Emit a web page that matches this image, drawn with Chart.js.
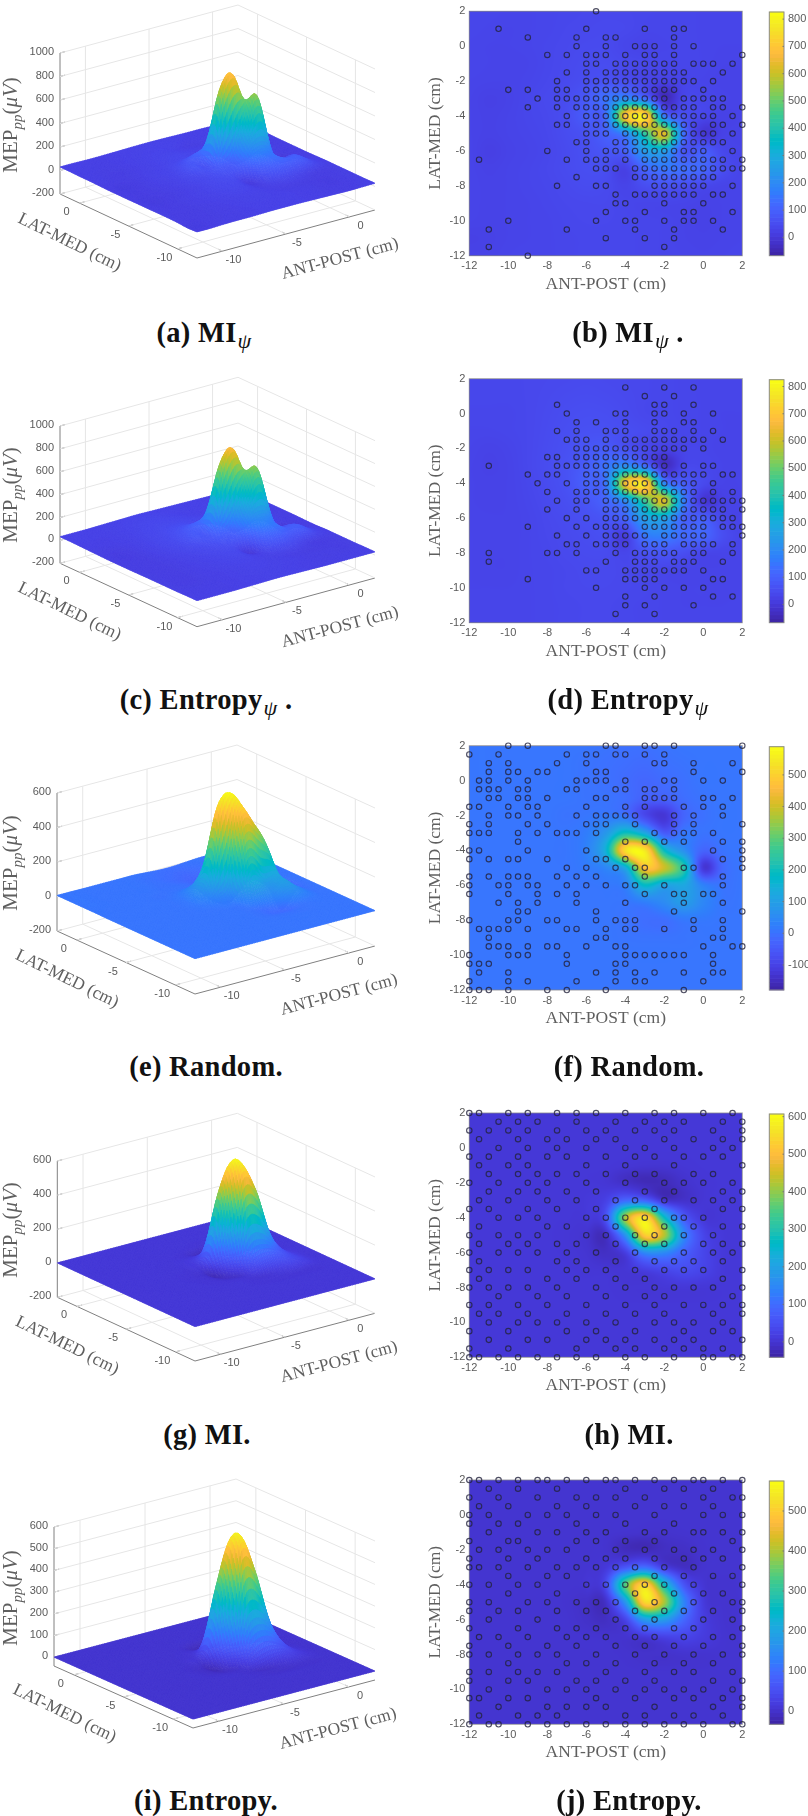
<!DOCTYPE html>
<html>
<head>
<meta charset="utf-8">
<title>MEP maps</title>
<script src="https://cdn.jsdelivr.net/npm/chart.js@4.4.1/dist/chart.umd.min.js"></script>
<style>
    html, body { margin: 0; padding: 0; background: #fff; }
    #page { position: relative; width: 808px; height: 1816px; overflow: hidden; }
    #page canvas { position: absolute; display: block; filter: blur(0.5px); }
    .cap { position: absolute; transform: translateX(-50%); white-space: nowrap; color: #111;
           font: bold 28.5px/32px "Liberation Serif", serif; letter-spacing: 0.3px; }
    .cap i { font: italic 22px "Liberation Serif", serif; position: relative; top: 6px; margin-left: 1px; }
</style>
</head>
<body>
<div id="page"></div>
<script>
// Axis values
const antCols = [-12, -11, -10, -9, -8, -7, -6, -5, -4, -3, -2, -1, 0, 1, 2];
const latRows = [2, 1, 0, -1, -2, -3, -4, -5, -6, -7, -8, -9, -10, -11, -12];
const probeRows = [2, 1.5, 1, 0.5, 0, -0.5, -1, -1.5, -2, -2.5, -3, -3.5, -4, -4.5, -5, -5.5, -6, -6.5, -7, -7.5, -8, -8.5, -9, -9.5, -10, -10.5, -11, -11.5, -12];
const heatTicks = [-12, -10, -8, -6, -4, -2, 0, 2];
const floorTicks = [-10, -5, 0];

// MEP values, one row per LAT-MED value, one column per ANT-POST value
const gridMiPsi = [
    [30, 30, 28, 28, 30, 32, 34, 35, 34, 32, 30, 30, 28, 28, 28],
    [30, 28, 26, 28, 30, 34, 36, 38, 36, 30, 30, 30, 28, 28, 28],
    [28, 26, 26, 28, 32, 36, 40, 40, 30, 25, 28, 30, 28, 26, 26],
    [28, 26, 24, 26, 32, 38, 44, 46, 40, 35, 30, 30, 28, 24, 24],
    [26, 24, 24, 28, 34, 40, 50, 60, 50, 30, 15, 25, 26, 22, 22],
    [24, 18, 22, 30, 38, 46, 80, 140, 200, 130, -40, 30, 30, 25, 22],
    [24, 20, 24, 30, 36, 50, 90, 130, 690, 770, 160, 60, 30, 20, 22],
    [24, 20, 24, 28, 34, 46, 60, 100, 190, 430, 630, 130, -5, 20, 22],
    [25, 15, 22, 26, 32, 42, 55, 70, 100, 250, 260, 70, 90, 35, 24],
    [25, 20, 24, 28, 34, 42, 50, 50, 20, 110, 150, 130, 110, 50, 26],
    [26, 22, 24, 28, 32, 38, 44, 40, 25, 50, 60, 50, 35, 26, 26],
    [26, 22, 24, 26, 30, 34, 36, 36, 30, 28, 28, 26, 22, 24, 26],
    [24, 22, 24, 26, 28, 32, 34, 34, 32, 30, 28, 24, 20, 24, 26],
    [18, 20, 24, 26, 28, 30, 32, 32, 32, 30, 28, 24, 22, 24, 26],
    [22, 22, 26, 28, 28, 30, 32, 32, 32, 30, 28, 26, 24, 26, 28]
];
const gridEntropyPsi = [
    [32, 32, 32, 34, 36, 38, 40, 38, 36, 34, 32, 30, 28, 28, 28],
    [32, 32, 32, 34, 38, 42, 44, 42, 38, 34, 32, 30, 28, 28, 28],
    [30, 30, 30, 34, 40, 46, 50, 48, 42, 34, 32, 30, 28, 26, 26],
    [28, 28, 30, 34, 42, 50, 56, 56, 50, 42, 34, 30, 28, 26, 24],
    [26, 22, 26, 34, 44, 54, 70, 80, 60, 35, 20, 28, 28, 24, 24],
    [24, 20, 24, 34, 46, 60, 90, 140, 210, 130, -30, 30, 32, 26, 24],
    [24, 22, 24, 32, 44, 60, 100, 150, 660, 750, 190, 90, 40, 24, 24],
    [24, 22, 24, 30, 40, 52, 70, 110, 210, 450, 620, 170, -5, 18, 22],
    [25, 24, 24, 28, 36, 44, 55, 70, 110, 260, 270, 100, 90, 35, 22],
    [26, 24, 24, 28, 34, 40, 46, 50, 10, 150, 170, 120, 110, 50, 26],
    [26, 24, 24, 28, 32, 38, 42, 42, 30, 60, 70, 50, 30, 26, 26],
    [26, 24, 24, 28, 30, 34, 38, 38, 34, 32, 30, 26, 24, 24, 26],
    [26, 26, 26, 28, 30, 34, 36, 36, 34, 32, 28, 26, 26, 24, 26],
    [28, 28, 28, 28, 30, 32, 34, 34, 32, 30, 28, 26, 26, 26, 28],
    [28, 28, 28, 28, 30, 32, 34, 34, 32, 30, 28, 28, 28, 28, 28]
];
const gridRandom = [
    [6, 6, 5, 5, 5, 5, 5, 0, -5, -5, 0, 5, 5, 5, 5],
    [6, 6, 5, 5, 5, 5, 0, -5, -10, -15, -5, 0, 5, 5, 5],
    [6, 6, 5, 5, 5, 5, 0, -5, -15, -25, -15, -5, 5, 5, 5],
    [6, 6, 5, 4, 5, 5, 0, 0, -10, -35, -35, -10, 0, 5, 5],
    [6, 5, 5, 4, 5, 0, 5, 10, 0, -90, -130, -30, -5, 5, 5],
    [5, 5, 5, 4, 5, 5, 20, 80, 200, 120, -50, 10, 0, 5, 5],
    [5, 5, 5, 5, 5, 5, 30, 150, 530, 550, 190, 60, -30, 0, 5],
    [5, 5, 5, 5, 5, 5, 15, 40, 130, 470, 400, 230, -125, -20, 5],
    [5, 5, 5, 5, 5, 5, 5, 10, 30, 180, 110, 120, 30, 0, 5],
    [5, 5, 5, 5, 5, 5, 5, 5, 5, 20, 50, 90, 40, 5, 5],
    [5, 5, 5, 5, 5, 5, 5, 5, 0, -10, -10, 10, 10, 5, 5],
    [5, 5, 5, 5, 5, 5, 5, 5, 2, 0, 0, 2, 5, 5, 5],
    [5, 5, 5, 5, 5, 5, 5, 5, 5, 5, 5, 5, 5, 5, 5],
    [5, 5, 5, 5, 5, 5, 5, 5, 5, 5, 5, 5, 5, 5, 5],
    [5, 5, 5, 5, 5, 5, 5, 5, 5, 5, 5, 5, 5, 5, 5]
];
const gridMi = [
    [2, 2, 2, 2, 2, 2, 2, 2, 2, 2, 2, 2, 2, 2, 2],
    [2, 2, 2, 2, 2, 2, 2, 2, 2, 2, 2, 2, 2, 2, 2],
    [2, 2, 2, 2, 2, 2, 2, 2, 2, 2, 2, 2, 2, 2, 2],
    [2, 2, 2, 2, 2, 2, 2, 2, 0, -3, -3, 0, 2, 2, 2],
    [2, 2, 2, 2, 2, 2, 2, 0, -12, -25, -25, -8, 0, 2, 2],
    [2, 2, 2, 2, 2, 2, 5, 20, 90, 80, -5, -10, 0, 2, 2],
    [2, 2, 2, 2, 2, 2, 5, 50, 420, 560, 270, 70, 5, 2, 2],
    [2, 2, 2, 2, 2, 0, -5, -15, 170, 530, 430, 150, 30, 5, 2],
    [2, 2, 2, 2, 2, 1, -3, -15, 15, 150, 150, 80, 30, 5, 2],
    [2, 2, 2, 2, 2, 2, 1, 0, 0, 15, 30, 40, 25, 5, 2],
    [2, 2, 2, 2, 2, 2, 2, 2, 0, 0, 2, 3, 2, 2, 2],
    [2, 2, 2, 2, 2, 2, 2, 2, 2, 2, 2, 2, 2, 2, 2],
    [2, 2, 2, 2, 2, 2, 2, 2, 2, 2, 2, 2, 2, 2, 2],
    [2, 2, 2, 2, 2, 2, 2, 2, 2, 2, 2, 2, 2, 2, 2],
    [2, 2, 2, 2, 2, 2, 2, 2, 2, 2, 2, 2, 2, 2, 2]
];
const gridEntropy = [
    [1, 1, 1, 1, 1, 1, 1, 1, 1, 1, 1, 1, 1, 1, 1],
    [1, 1, 1, 1, 1, 1, 1, 1, 1, 1, 1, 1, 1, 1, 1],
    [1, 1, 1, 1, 1, 1, 1, 1, 1, 1, 1, 1, 1, 1, 1],
    [1, 1, 1, 1, 1, 1, 1, 1, 0, -2, -2, 0, 1, 1, 1],
    [1, 1, 1, 1, 1, 1, 1, 0, -15, -18, -10, -8, 0, 1, 1],
    [1, 1, 1, 1, 1, 1, 2, 10, 60, 100, 20, -10, 0, 1, 1],
    [1, 1, 1, 1, 1, 1, 5, 40, 340, 510, 260, 60, 5, 0, 1],
    [1, 1, 1, 1, 1, 0, -6, -5, 170, 520, 400, 140, 15, 0, 1],
    [1, 1, 1, 1, 1, 1, -5, -10, 30, 180, 180, 90, 20, 1, 1],
    [1, 1, 1, 1, 1, 1, 1, 0, 0, 10, 25, 30, 15, 2, 1],
    [1, 1, 1, 1, 1, 1, 1, 1, 0, -3, -3, 0, 0, 1, 1],
    [1, 1, 1, 1, 1, 1, 1, 1, 1, 1, 1, 1, 1, 1, 1],
    [1, 1, 1, 1, 1, 1, 1, 1, 1, 1, 1, 1, 1, 1, 1],
    [1, 1, 1, 1, 1, 1, 1, 1, 1, 1, 1, 1, 1, 1, 1],
    [1, 1, 1, 1, 1, 1, 1, 1, 1, 1, 1, 1, 1, 1, 1]
];

// Stimulation sites, one list of ANT-POST values per entry of probeRows
const probesMiPsi = [
    [-5.5], [], [-10.5, -6, -3, -1.5, -1], [-9, -6.5, -5, -4.5, -1.5],
    [-6.5, -5, -3.5, -3, -2.5, -1.5, -0.5],
    [-8, -7, -6, -5.5, -5, -4, -3, -2.5, -1.5, 2],
    [-6, -5.5, -4.5, -4, -3.5, -3, -2.5, -2, -1.5, -0.5, 0, 0.5, 1.5],
    [-7, -6, -5, -4.5, -4, -3.5, -3, -2.5, -2, -1.5, -1, 1],
    [-7.5, -6, -5.5, -5, -4.5, -4, -3.5, -3, -2.5, -2, -1.5, -1, -0.5, 0.5],
    [-10, -9, -7.5, -7, -6, -5.5, -5, -4.5, -4, -3.5, -3, -2.5, -2, -1.5, 0],
    [-8.5, -7.5, -7, -6.5, -6, -5.5, -5, -4.5, -4, -3.5, -3, -2.5, -2, -1, -0.5, 0, 0.5, 1],
    [-9, -7.5, -6.5, -6, -5.5, -5, -4.5, -4, -3.5, -3, -2.5, -2, -1.5, -1, -0.5, 0.5, 1, 2],
    [-7, -6, -5.5, -5, -4.5, -4, -3.5, -3, -2.5, -2, -1.5, -1, -0.5, 0, 0.5, 1.5],
    [-7.5, -7, -6, -5.5, -5, -4.5, -4, -3.5, -3, -2.5, -2, -1.5, -1, -0.5, 0.5, 1, 2],
    [-6, -5.5, -5, -4, -3.5, -3, -2.5, -2, -1.5, -1, -0.5, 0, 0.5, 1.5],
    [-6.5, -6, -4.5, -4, -3.5, -3, -2.5, -2, -1.5, -1, -0.5, 0, 0.5, 1],
    [-8, -6, -5, -4.5, -4, -3.5, -3, -2.5, -2, -1.5, -1, -0.5, 0, 1.5],
    [-11.5, -7, -6, -5.5, -5, -4, -3, -2.5, -2, -1.5, -1, -0.5, 0, 0.5, 1, 2],
    [-5.5, -5, -4.5, -3.5, -3, -2.5, -2, -1.5, -1, -0.5, 0, 0.5, 1, 1.5, 2],
    [-6.5, -3.5, -3, -2.5, -2, -1.5, -1, -0.5, 0, 0.5],
    [-7.5, -5.5, -5, -2.5, -2, -1.5, -1, -0.5, 0, 1.5],
    [-4.5, -3.5, -3, -2.5, -2, -1.5, -1, -0.5, 0.5, 1],
    [-4.5, -4, -2, 0], [-5, -3, -1, -0.5, 1.5],
    [-10, -5.5, -4, -3.5, -2, -1, -0.5, 0.5],
    [-11, -7, -3.5, -1.5, 1], [-5, -3, -1.5], [-11, -2], [-9]
];
const probesEntropyPsi = [
    [], [-4, -2, -0.5], [-3, -1.5], [-7.5, -2.5, -2, -0.5],
    [-7, -4.5, -4, -2.5, -2, -1, 0.5],
    [-6.5, -5.5, -4, -2.5, -1, -0.5],
    [-7.5, -6.5, -5, -4.5, -4, -2.5, -2, -1.5, -0.5, 0.5],
    [-7, -6.5, -6, -5, -4, -3.5, -3, -2.5, -2, -1.5, -1, -0.5, 0, 1],
    [-6.5, -6, -5.5, -5, -4.5, -4, -3.5, -3, -2.5, -2, -1.5, -1, 0],
    [-8, -7.5, -6.5, -6, -5.5, -5, -4.5, -4, -3.5, -3, -2.5, -2],
    [-11, -7.5, -7, -6.5, -6, -5.5, -5, -4.5, -4, -3.5, -3, -2.5, -2, -1, 0, 0.5],
    [-9, -8, -7.5, -6, -5.5, -5, -4.5, -4, -3.5, -3, -2.5, -2, -1.5, -1, -0.5, 0, 1, 1.5],
    [-8.5, -7, -6, -5.5, -5, -4.5, -4, -3.5, -3, -2.5, -2, -1.5, -1, -0.5, 0.5],
    [-8, -6.5, -6, -5.5, -5, -4.5, -4, -3.5, -3, -2.5, -2, -1.5, -1, -0.5, 0.5, 1.5],
    [-7.5, -6.5, -6, -5, -4.5, -4, -3.5, -3, -2.5, -2, -1.5, -1, -0.5, 0, 0.5, 1, 1.5, 2],
    [-8, -6.5, -5, -4.5, -4, -3.5, -3, -2.5, -2, -1.5, -1, -0.5, 0, 0.5, 1, 2],
    [-7, -6, -5, -4.5, -4, -3.5, -3, -2.5, -2, -1.5, -1, -0.5, 0, 0.5, 1, 1.5],
    [-9, -6.5, -5.5, -5, -4.5, -4, -3, -2.5, -2, -1.5, -1, -0.5, 0, 1, 1.5, 2],
    [-7.5, -6, -5, -4.5, -4, -3.5, -3, -2, -1.5, -1, -0.5, 0, 2],
    [-7, -6.5, -5.5, -5, -4.5, -4, -3, -2.5, -2, -1, -0.5, 0, 0.5, 1.5],
    [-11, -8, -7.5, -6.5, -4.5, -3.5, -3, -2.5, -2, -1.5, -0.5, 0, 1.5],
    [-11, -5, -3.5, -3, -2.5, -1.5, -1, -0.5, 1],
    [-6, -5.5, -4, -3.5, -3, -2.5, -2, -1.5, -1, 0],
    [-9, -4, -3.5, -3, -2.5, 0.5, 1],
    [-5.5, -3, -2, -1, 0],
    [-4, -2.5, 0.5, 1.5], [-4, -3, -0.5], [-4.5, -2.5], []
];
const probesRandom = [
    [-10, -9, -5, -4.5, -3, -2.5, -1.5, 2],
    [-12, -10.5, -7, -6, -5.5, -4.5, -4, -3, -2],
    [-11, -10, -7.5, -6, -2.5, -2, -0.5, 1.5],
    [-11, -10, -9.5, -8.5, -8, -5.5, -5, -0.5, 2],
    [-11.5, -11, -10, -9, -6.5, -6, -5.5, -5, -4, -2, -1.5, 0, 1],
    [-11.5, -11, -10.5, -9.5, -9, -7, -6.5, -4.5, -4, -3, -2.5, -1.5],
    [-11, -10.5, -9.5, -9, -8, -5.5, -5, -3, -2.5, -2, -1.5, 0, 0.5, 1.5],
    [-12, -11.5, -10, -9, -8.5, -6, -4, -3, -1, 0, 1],
    [-11, -10, -9.5, -8.5, -6.5, -5.5, -5, -4.5, -4, -3.5, -1.5, -0.5, 1],
    [-12, -11, -9, -8, -6, -5.5, -5, -3.5, -1.5, -0.5, 2],
    [-12, -11.5, -11, -9.5, -8.5, -7.5, -7, -6.5, -5.5, -2.5, -1.5, -1, -0.5, 0.5],
    [-9.5, -4, -3, -2, -1, 1, 2],
    [-12, -11.5, -9, -6, 0.5, 2],
    [-12, -11, -10, -9.5, -8, -5.5, -5, -4, 1, 2],
    [-7, -6, -4.5, -3.5, -3, -1, -0.5, 2],
    [-12, -11, -10, -9.5, -9, -7.5, -6.5, -5.5, -3, 1],
    [-12, -10.5, -10, -9, -8.5, -7, -6, -5, -4, -3.5, -2, 1],
    [-12, -10, -8.5, -7.5, -6.5, -3, -1.5, -1, 0, 0.5],
    [-10.5, -9.5, -8.5, -6.5, -4, -1, 1],
    [-9.5, -9, -5.5, -1.5, 2],
    [-12, -10, -9.5, -8, -7.5, -5.5, -4.5, -4, -3.5, -0.5, 1],
    [-11.5, -11, -10.5, -10, -9, -7, -6.5, -5, -4, -3.5, -2, -0.5, 1],
    [-11, -5.5, -5, 0.5, 1],
    [-11, -10.5, -10, -9, -8, -7.5, -6, -4.5, -4, 0, 1.5, 2],
    [-12, -10, -9.5, -9, -7, -4, -3.5, -3, -2.5, -2, -1.5, -1, 0.5],
    [-12, -11.5, -11, -7, -4.5, -4, 0.5],
    [-11.5, -10, -5.5, -4.5, -3.5, -2.5, -1, 0.5, 1],
    [-12, -10, -9, -6.5, -4.5, -3.5, -3, 0],
    [-12, -11.5, -11, -10, -8, -7, -5, -1]
];
const probesMi = [
    [-12, -11.5, -10, -9, -7.5, -6.5, -5.5, -4, -2.5, -1.5, 0, 1.5],
    [-10.5, -9.5, -8.5, -6.5, -4.5, -3, -2, -1, 1, 2],
    [-12, -11, -10, -9, -7.5, -6, -5, -3.5, -2.5, -1.5, 0.5, 2],
    [-11.5, -9.5, -8, -7, -5.5, -4.5, -2, -0.5, 1, 2],
    [-10.5, -9, -7.5, -6, -4, -3, -1.5, 0.5, 1.5],
    [-12, -11, -9.5, -8, -7, -5, -3.5, -2.5, -1, 0, 1],
    [-11.5, -10, -9, -6, -4, -1.5, 2],
    [-11, -9.5, -8.5, -7.5, -6.5, -5, -3.5, -2.5, -0.5, 0.5],
    [-12, -10.5, -9, -8, -6, -4, -2, -1, 0, 1.5],
    [-11, -9.5, -8.5, -7, -5.5, -3, -1.5, 1, 2],
    [-11.5, -10, -8, -6.5, -4.5, -3.5, -2, -0.5, 0.5, 1.5],
    [-12, -11, -9, -7.5, -5.5, -2.5, 1, 2],
    [-10.5, -9.5, -8.5, -6, -5, -4, -3, -1.5, -1, 0],
    [-11.5, -8, -7, -4.5, -2, -0.5, 1, 2],
    [-12, -10.5, -9.5, -8.5, -6, -5, -3.5, -2.5, -1, 0.5],
    [-11.5, -10, -9, -7.5, -6.5, -4.5, -3, -2, 0, 1, 2],
    [-12, -10.5, -9.5, -8.5, -7, -5.5, -3.5, -1, 0.5, 1.5],
    [-11.5, -7.5, -6.5, -4.5, -2.5, -1.5, -0.5, 1],
    [-12, -11, -10, -9, -7, -6, -5, -3.5, -2, -1, 0, 2],
    [-11.5, -8, -6.5, -4.5, -3, 1],
    [-12, -11, -10, -9, -7.5, -5.5, -4, -2.5, -1.5, -0.5, 0.5, 2],
    [-10.5, -8.5, -7, -5, -3, -2, 1.5],
    [-12, -11, -9.5, -8, -6, -4, -2.5, -1, 0, 1, 2],
    [-11.5, -10.5, -9, -7, -5, -3.5, -2, 0.5, 2],
    [-11, -9.5, -8.5, -7.5, -6, -4.5, -2.5, -1.5, -0.5, 1],
    [-12, -10, -7, -5.5, -3.5, -1, 0.5, 1.5],
    [-11, -9, -8, -6, -5, -4, -2.5, -1.5, -0.5, 2],
    [-12, -10, -6.5, -4.5, -3.5, -2, -1, 0, 1],
    [-12, -11.5, -10.5, -9.5, -8.5, -7.5, -6.5, -5.5, -4, -3, -1.5, 0, 0.5, 1.5, 2]
];
const probesEntropy = [
    [-12, -11.5, -10.5, -9.5, -8.5, -8, -7, -6, -5, -4.5, -3.5, -2.5, -1.5, -0.5, 0, 1, 2],
    [-11, -9.5, -7.5, -4, -2, -1, 0.5],
    [-12, -10.5, -8.5, -6.5, -5.5, -4.5, -3, 0, 1.5, 2],
    [-11.5, -10, -7.5, -6, -3.5, -2, -1, 0.5],
    [-12, -11, -9, -8, -7, -5.5, -4.5, -2.5, 0, 1, 2],
    [-12, -10.5, -9.5, -6.5, -4, -1.5],
    [-11, -8.5, -7.5, -6, -5, -3, -2, -0.5, 0, 1, 2],
    [-12, -10, -9.5, -6.5, -5.5, -4, -2.5, 1.5],
    [-11.5, -10.5, -9, -8, -7, -4.5, -3, -1.5, -0.5, 0.5, 2],
    [-12, -10, -8.5, -6, -5, -4, -2.5, -1, 0, 1],
    [-12, -11.5, -10.5, -9, -7.5, -6.5, -5.5, -4.5, -3.5, -2, -0.5, 2],
    [-10, -8, -7, -2.5, -1, 0.5, 1.5],
    [-12, -11, -9.5, -8.5, -6, -5, -4, -3, -2, -0.5, 2],
    [-10, -7.5, -3.5, -1.5, 0, 1],
    [-12, -11, -9, -8, -6.5, -5.5, -4.5, -2.5, -0.5, 1.5, 2],
    [-12, -10.5, -9.5, -7.5, -6, -5, -3.5, -2, -1, 0.5, 2],
    [-11, -8.5, -4.5, -2.5, 0, 1.5],
    [-12, -9.5, -7.5, -6.5, -5.5, -4, -3, -1.5, -0.5, 2],
    [-11.5, -10.5, -9, -7, -6, -5, -3.5, -2.5, -1, 0.5, 1.5],
    [-12, -10, -8, -6.5, -4.5, -3, -1.5, 0, 2],
    [-12, -11, -9.5, -8.5, -7.5, -5.5, -3.5, -2, -0.5, 1, 2],
    [-10, -7, -6, -4.5, -2.5, -1, 0.5],
    [-12, -11, -9.5, -8.5, -7.5, -5, -3, -1.5, -0.5, 1.5],
    [-12, -10, -9, -6.5, -5.5, -4, -2.5, 0.5, 2],
    [-11, -8, -7, -6, -4.5, -3, -2, -1, 0, 1.5],
    [-12, -11.5, -10, -9, -5.5, -3.5, -1.5, -0.5, 1, 2],
    [-10.5, -8, -7, -6, -5, -2.5, 0.5, 2],
    [-11.5, -9.5, -8.5, -7.5, -4, -3, -1.5, -0.5, 1],
    [-12, -11, -10.5, -9, -8, -7, -6, -5, -4, -3, -2, -1, 0, 1.5, 2]
];

// Tick labels
const zTicksTall = [-200, 0, 200, 400, 600, 800, 1000];
const zTicksMid = [-200, 0, 200, 400, 600];
const zTicksLow = [0, 100, 200, 300, 400, 500, 600];
const barTicksPsi = [0, 100, 200, 300, 400, 500, 600, 700, 800];
const barTicksRandom = [-100, 0, 100, 200, 300, 400, 500];
const barTicksMi = [0, 100, 200, 300, 400, 500, 600];
const barTicksEntropy = [0, 100, 200, 300, 400, 500];

// Panel layout, in pixels relative to the top of each row
const rows = [
    { top: 0, grid: gridMiPsi, probes: probesMiPsi, clim: [-67, 826], surfClim: [-67, 950], barTicks: barTicksPsi,
      zLim: [-200, 1000], zTicks: zTicksTall, front: [197, 258], left: [60, 194], right: [375, 210], zTop: 53, mepY: 125,
      plot: [11.3, 255.7], barTop: 12 },
    { top: 365, grid: gridEntropyPsi, probes: probesEntropyPsi, clim: [-67, 825], surfClim: [-67, 950], barTicks: barTicksPsi,
      zLim: [-200, 1000], zTicks: zTicksTall, front: [197, 261.7], left: [60, 198.3], right: [375, 213], zTop: 61, mepY: 130,
      plot: [13.7, 257.7], barTop: 14.7 },
    { top: 730, grid: gridRandom, probes: probesRandom, clim: [-179, 589], surfClim: [-179, 589], barTicks: barTicksRandom,
      zLim: [-200, 600], zTicks: zTicksMid, front: [195, 264], left: [57, 201], right: [375, 216], zTop: 63, mepY: 133,
      plot: [15.7, 260], barTop: 16.7 },
    { top: 1095, grid: gridMi, probes: probesMi, clim: [-41, 607], surfClim: [-41, 607], barTicks: barTicksMi,
      zLim: [-200, 600], zTicks: zTicksMid, front: [195, 266], left: [57.3, 202.3], right: [375, 218.3], zTop: 66, mepY: 135,
      plot: [18, 262.3], barTop: 19 },
    { top: 1456, grid: gridEntropy, probes: probesEntropy, clim: [-33, 575], surfClim: [-33, 575], barTicks: barTicksEntropy,
      zLim: [-40, 600], zTicks: zTicksLow, front: [193, 272], left: [54, 210], right: [375, 224], zTop: 71, mepY: 142,
      plot: [24, 268.3], barTop: 25 }
];

const captions = [
    { x: 204, y: 317, html: '(a) MI<i>ψ</i>' },
    { x: 628, y: 317, html: '(b) MI<i>ψ</i> .' },
    { x: 206, y: 684, html: '(c) Entropy<i>ψ</i> .' },
    { x: 628, y: 684, html: '(d) Entropy<i>ψ</i>' },
    { x: 206, y: 1051, html: '(e) Random.' },
    { x: 629, y: 1051, html: '(f) Random.' },
    { x: 207, y: 1419, html: '(g) MI.' },
    { x: 629, y: 1419, html: '(h) MI.' },
    { x: 206, y: 1785, html: '(i) Entropy.' },
    { x: 629, y: 1785, html: '(j) Entropy.' }
];

// MATLAB parula colormap
const parula = [[.2422,.1504,.6603],[.2504,.1650,.7076],[.2578,.1818,.7511],[.2647,.1978,.7952],[.2706,.2147,.8364],[.2751,.2342,.8710],[.2783,.2559,.8991],[.2803,.2782,.9221],[.2813,.3006,.9414],[.2810,.3228,.9579],[.2795,.3447,.9717],[.2760,.3667,.9829],[.2699,.3892,.9906],[.2602,.4123,.9952],[.2440,.4358,.9988],[.2206,.4603,.9973],[.1963,.4847,.9892],[.1834,.5074,.9798],[.1786,.5289,.9682],[.1764,.5499,.9520],[.1687,.5703,.9359],[.1540,.5902,.9218],[.1460,.6091,.9079],[.1380,.6276,.8973],[.1248,.6459,.8883],[.1113,.6635,.8763],[.0952,.6798,.8598],[.0689,.6948,.8394],[.0297,.7082,.8163],[.0036,.7203,.7917],[.0067,.7312,.7660],[.0433,.7411,.7394],[.0964,.7500,.7120],[.1408,.7584,.6842],[.1717,.7670,.6554],[.1938,.7758,.6251],[.2161,.7843,.5923],[.2470,.7918,.5567],[.2906,.7973,.5188],[.3406,.8008,.4789],[.3909,.8029,.4354],[.4456,.8024,.3909],[.5044,.7993,.3480],[.5616,.7942,.3045],[.6174,.7876,.2612],[.6720,.7793,.2227],[.7242,.7698,.1910],[.7738,.7598,.1646],[.8203,.7498,.1535],[.8634,.7406,.1596],[.9035,.7330,.1774],[.9393,.7288,.2100],[.9728,.7298,.2394],[.9956,.7434,.2371],[.9970,.7659,.2199],[.9952,.7893,.2028],[.9892,.8136,.1885],[.9786,.8386,.1766],[.9676,.8639,.1643],[.9610,.8890,.1537],[.9597,.9135,.1423],[.9628,.9373,.1265],[.9691,.9606,.1064],[.9769,.9839,.0805]];

function parulaRgb(v, clim) {
    const t = Math.min(1, Math.max(0, (v - clim[0]) / (clim[1] - clim[0]))) * (parula.length - 1);
    const i = Math.min(parula.length - 2, Math.floor(t));
    const f = t - i;
    return [0, 1, 2].map(k => Math.round(255 * (parula[i][k] + (parula[i + 1][k] - parula[i][k]) * f)));
}

// Smooth shading between the grid values, as MATLAB's interp shading does
function catmull(a, b, c, d, t) {
    return b + 0.5 * t * (c - a + t * (2 * a - 5 * b + 4 * c - d + t * (3 * (b - c) + d - a)));
}

function sampleGrid(grid, ant, lat) {
    const fc = Math.min(13.9999, Math.max(0, ant + 12));
    const fr = Math.min(13.9999, Math.max(0, 2 - lat));
    const c = Math.floor(fc), r = Math.floor(fr);
    const at = (i, j) => grid[Math.min(14, Math.max(0, i))][Math.min(14, Math.max(0, j))];
    const rowVal = i => catmull(at(i, c - 1), at(i, c), at(i, c + 1), at(i, c + 2), fc - c);
    return catmull(rowVal(r - 1), rowVal(r), rowVal(r + 1), rowVal(r + 2), fr - r);
}

const page = document.getElementById('page');

function addCanvas(left, top, width, height) {
    const canvas = document.createElement('canvas');
    canvas.width = width;
    canvas.height = height;
    canvas.style.left = left + 'px';
    canvas.style.top = top + 'px';
    canvas.style.width = width + 'px';
    canvas.style.height = height + 'px';
    page.appendChild(canvas);
    return canvas.getContext('2d');
}

const tickFont = { family: '"Liberation Sans", sans-serif', size: 11 };
const tickColor = '#5a5a5a';
const titleColor = '#5f5f5f';
const titleFont = { family: '"Liberation Serif", serif', size: 17.5 };

// 3D surface panel: orthographic projection onto a pixel-like scale pair
function createSurface(row) {
    const [zMin, zMax] = row.zLim;
    const project = (ant, lat, z) => {
        const a = (ant + 12) / 14, l = (lat + 12) / 14, h = (z - zMin) / (zMax - zMin);
        return {
            x: row.front[0] + a * (row.right[0] - row.front[0]) + l * (row.left[0] - row.front[0]),
            y: row.front[1] + a * (row.right[1] - row.front[1]) + l * (row.left[1] - row.front[1]) + h * (row.zTop - row.left[1])
        };
    };
    const line = (points, color, width) => ({
        data: points, showLine: true, pointRadius: 0, borderColor: color, borderWidth: width, clip: false
    });

    const gridColor = '#e6e6e6', axisColor = '#808080';
    const datasets = [];
    row.zTicks.forEach(z => {
        datasets.push(line([project(-12, 2, z), project(2, 2, z), project(2, -12, z)], gridColor, 1));
    });
    floorTicks.forEach(v => {
        datasets.push(line([project(-12, v, zMin), project(2, v, zMin), project(2, v, zMax)], gridColor, 1));
        datasets.push(line([project(v, -12, zMin), project(v, 2, zMin), project(v, 2, zMax)], gridColor, 1));
    });
    datasets.push(line([project(-12, 2, zMin), project(-12, -12, zMin), project(2, -12, zMin)], axisColor, 1));
    datasets.push(line([project(-12, 2, zMin), project(-12, 2, zMax)], axisColor, 1));
    row.zTicks.forEach(z => {
        datasets.push(line([project(-12, 2, z), project(-11.6, 2, z)], axisColor, 1));
    });
    floorTicks.forEach(v => {
        datasets.push(line([project(v, -12, zMin), project(v, -11.6, zMin)], axisColor, 1));
        datasets.push(line([project(-12, v, zMin), project(-11.6, v, zMin)], axisColor, 1));
    });

    const surfacePlugin = {
        id: 'surface',
        afterDatasetsDraw(chart) {
            const ctx = chart.ctx;
            const sx = chart.scales.x, sy = chart.scales.y;
            const px = p => [sx.getPixelForValue(p.x), sy.getPixelForValue(p.y)];

            // painter's order: far corner (ant 2, lat 2) first
            const steps = 8, n = 14 * steps;
            const mesh = [];
            for (let r = 0; r <= n; r++) {
                const rowVals = [];
                for (let c = 0; c <= n; c++) {
                    rowVals.push(sampleGrid(row.grid, -12 + c / steps, 2 - r / steps));
                }
                mesh.push(rowVals);
            }
            ctx.save();
            ctx.lineWidth = 0.7;
            for (let r = 0; r < n; r++) {
                for (let c = n - 1; c >= 0; c--) {
                    const ant0 = -12 + c / steps, ant1 = -12 + (c + 1) / steps;
                    const lat0 = 2 - r / steps, lat1 = 2 - (r + 1) / steps;
                    const a = px(project(ant0, lat0, mesh[r][c]));
                    const b = px(project(ant1, lat0, mesh[r][c + 1]));
                    const d = px(project(ant1, lat1, mesh[r + 1][c + 1]));
                    const e = px(project(ant0, lat1, mesh[r + 1][c]));
                    const avg = (mesh[r][c] + mesh[r][c + 1] + mesh[r + 1][c] + mesh[r + 1][c + 1]) / 4;
                    const rgb = parulaRgb(avg, row.surfClim);
                    const color = `rgb(${rgb[0]},${rgb[1]},${rgb[2]})`;
                    ctx.fillStyle = color;
                    ctx.strokeStyle = color;
                    ctx.beginPath();
                    ctx.moveTo(a[0], a[1]);
                    ctx.lineTo(b[0], b[1]);
                    ctx.lineTo(d[0], d[1]);
                    ctx.lineTo(e[0], e[1]);
                    ctx.closePath();
                    ctx.fill();
                    ctx.stroke();
                }
            }
            ctx.restore();

            // axis text
            ctx.save();
            ctx.font = `${tickFont.size}px ${tickFont.family}`;
            ctx.fillStyle = tickColor;
            ctx.textBaseline = 'middle';
            ctx.textAlign = 'right';
            row.zTicks.forEach(z => {
                const p = px(project(-12, 2, z));
                ctx.fillText(String(z), p[0] - 6, p[1] - 1);
            });
            ctx.textAlign = 'center';
            floorTicks.forEach(v => {
                const p = px(project(v, -12, zMin));
                ctx.fillText(String(v), p[0] + 11, p[1] + 9);
                const q = px(project(-12, v, zMin));
                ctx.fillText(String(v), q[0] - 13, q[1] + 9);
            });

            ctx.fillStyle = titleColor;
            ctx.font = `${titleFont.size}px ${titleFont.family}`;
            const slanted = (text, cx, cy, angle) => {
                ctx.save();
                ctx.translate(cx, cy);
                ctx.rotate(angle * Math.PI / 180);
                ctx.fillText(text, 0, 0);
                ctx.restore();
            };
            slanted('LAT-MED (cm)', (row.front[0] + row.left[0]) / 2 - 59, (row.front[1] + row.left[1]) / 2 + 16.5, 26);
            slanted('ANT-POST (cm)', (row.front[0] + row.right[0]) / 2 + 54, (row.front[1] + row.right[1]) / 2 + 25, -15);

            // MEP_pp(uV) with its subscript, running upwards
            ctx.translate(17, row.mepY);
            ctx.rotate(-Math.PI / 2);
            ctx.textAlign = 'left';
            ctx.textBaseline = 'alphabetic';
            const parts = [
                ['MEP', 'normal 21px "Liberation Serif", serif', 0],
                ['pp', 'italic 15px "Liberation Serif", serif', 5],
                ['(', 'normal 21px "Liberation Serif", serif', 0],
                ['μV', 'italic 21px "Liberation Serif", serif', 0],
                [')', 'normal 21px "Liberation Serif", serif', 0]
            ];
            let total = 0;
            parts.forEach(part => { ctx.font = part[1]; total += ctx.measureText(part[0]).width; });
            let pos = -total / 2;
            parts.forEach(part => {
                ctx.font = part[1];
                ctx.fillText(part[0], pos, part[2]);
                pos += ctx.measureText(part[0]).width;
            });
            ctx.restore();
        }
    };

    new Chart(addCanvas(0, row.top, 404, 300), {
        type: 'scatter',
        data: { datasets: datasets },
        options: {
            responsive: false,
            animation: false,
            devicePixelRatio: 1,
            layout: { padding: 0 },
            plugins: { legend: { display: false }, tooltip: { enabled: false } },
            scales: {
                x: { display: false, type: 'linear', min: 0, max: 404 },
                y: { display: false, type: 'linear', min: 0, max: 300, reverse: true }
            }
        },
        plugins: [surfacePlugin]
    });
}

// Heat map panel: probes are the dataset, the map is painted behind them through the scales
function createHeatmap(row) {
    const points = [];
    row.probes.forEach((ants, i) => {
        ants.forEach(ant => points.push({ x: ant, y: probeRows[i] }));
    });

    const heatPlugin = {
        id: 'heat',
        beforeDatasetsDraw(chart) {
            const area = chart.chartArea;
            const sx = chart.scales.x, sy = chart.scales.y;
            const w = Math.round(area.right - area.left), h = Math.round(area.bottom - area.top);
            const off = document.createElement('canvas');
            off.width = w;
            off.height = h;
            const octx = off.getContext('2d');
            const img = octx.createImageData(w, h);
            for (let j = 0; j < h; j++) {
                const lat = sy.getValueForPixel(area.top + (j + 0.5) * (area.bottom - area.top) / h);
                for (let i = 0; i < w; i++) {
                    const ant = sx.getValueForPixel(area.left + (i + 0.5) * (area.right - area.left) / w);
                    const rgb = parulaRgb(sampleGrid(row.grid, ant, lat), row.clim);
                    const k = (j * w + i) * 4;
                    img.data[k] = rgb[0];
                    img.data[k + 1] = rgb[1];
                    img.data[k + 2] = rgb[2];
                    img.data[k + 3] = 255;
                }
            }
            octx.putImageData(img, 0, 0);
            chart.ctx.drawImage(off, area.left, area.top, area.right - area.left, area.bottom - area.top);
            chart.ctx.save();
            chart.ctx.strokeStyle = 'rgba(130,130,140,0.8)';
            chart.ctx.lineWidth = 1;
            chart.ctx.strokeRect(area.left, area.top, area.right - area.left, area.bottom - area.top);
            chart.ctx.restore();
        }
    };

    const canvasHeight = 330;
    new Chart(addCanvas(404, row.top, 356, canvasHeight), {
        type: 'scatter',
        data: {
            datasets: [{
                data: points,
                clip: false,
                pointRadius: 2.7,
                pointBorderWidth: 1.15,
                pointBorderColor: 'rgba(35,35,60,0.8)',
                pointBackgroundColor: 'rgba(0,0,0,0)'
            }]
        },
        options: {
            responsive: false,
            animation: false,
            devicePixelRatio: 1,
            layout: { padding: { left: 15.3, right: 17.7, top: row.plot[0], bottom: canvasHeight - row.plot[1] - 50 } },
            plugins: { legend: { display: false }, tooltip: { enabled: false } },
            scales: {
                x: {
                    type: 'linear', min: -12, max: 2,
                    afterBuildTicks: scale => { scale.ticks = heatTicks.map(v => ({ value: v })); },
                    afterFit: scale => { scale.height = 50; },
                    grid: { display: false, drawTicks: false },
                    border: { display: false },
                    ticks: { font: tickFont, color: tickColor, padding: 4, maxRotation: 0, autoSkip: false, callback: v => String(v) },
                    title: { display: true, text: 'ANT-POST (cm)', font: titleFont, color: titleColor, padding: { top: 0, bottom: 11 } }
                },
                y: {
                    type: 'linear', min: -12, max: 2,
                    afterBuildTicks: scale => { scale.ticks = heatTicks.map(v => ({ value: v })); },
                    afterFit: scale => { scale.width = 50; },
                    grid: { display: false, drawTicks: false },
                    border: { display: false },
                    ticks: { font: tickFont, color: tickColor, padding: 4, autoSkip: false, callback: v => String(v) },
                    title: { display: true, text: 'LAT-MED (cm)', font: titleFont, color: titleColor, padding: { top: 6, bottom: 0 } }
                }
            }
        },
        plugins: [heatPlugin]
    });
}

// Colour bar: a chart of its own whose right axis carries the colour limits
function createColorbar(row) {
    const barPlugin = {
        id: 'bar',
        beforeDatasetsDraw(chart) {
            const ctx = chart.ctx, area = chart.chartArea, sy = chart.scales.y;
            ctx.save();
            parula.forEach((c, i) => {
                const v0 = row.clim[0] + (row.clim[1] - row.clim[0]) * i / parula.length;
                const v1 = row.clim[0] + (row.clim[1] - row.clim[0]) * (i + 1) / parula.length;
                const y0 = sy.getPixelForValue(v0), y1 = sy.getPixelForValue(v1);
                ctx.fillStyle = `rgb(${c[0] * 255},${c[1] * 255},${c[2] * 255})`;
                ctx.fillRect(area.left, y1 - 0.3, area.right - area.left, y0 - y1 + 0.6);
            });
            ctx.strokeStyle = '#8a8a8a';
            ctx.lineWidth = 1;
            ctx.strokeRect(area.left, area.top, area.right - area.left, area.bottom - area.top);
            ctx.strokeStyle = '#777';
            row.barTicks.forEach(v => {
                const y = sy.getPixelForValue(v);
                ctx.beginPath();
                ctx.moveTo(area.right - 1.5, y);
                ctx.lineTo(area.right, y);
                ctx.stroke();
            });
            ctx.restore();
        }
    };

    const canvasHeight = 280;
    new Chart(addCanvas(760, row.top, 48, canvasHeight), {
        type: 'scatter',
        data: { datasets: [] },
        options: {
            responsive: false,
            animation: false,
            devicePixelRatio: 1,
            layout: { padding: { left: 9.3, right: 0, top: row.barTop, bottom: canvasHeight - row.plot[1] } },
            plugins: { legend: { display: false }, tooltip: { enabled: false } },
            scales: {
                x: { display: false, type: 'linear', min: 0, max: 1 },
                y: {
                    type: 'linear', position: 'right', min: row.clim[0], max: row.clim[1],
                    afterBuildTicks: scale => { scale.ticks = row.barTicks.map(v => ({ value: v })); },
                    afterFit: scale => { scale.width = 24; },
                    grid: { display: false, drawTicks: false },
                    border: { display: false },
                    ticks: { font: tickFont, color: tickColor, padding: 4, autoSkip: false, callback: v => String(v) }
                }
            }
        },
        plugins: [barPlugin]
    });
}

rows.forEach(row => {
    createSurface(row);
    createHeatmap(row);
    createColorbar(row);
});

captions.forEach(cap => {
    const div = document.createElement('div');
    div.className = 'cap';
    div.style.left = cap.x + 'px';
    div.style.top = cap.y + 'px';
    div.innerHTML = cap.html;
    page.appendChild(div);
});
</script>
</body>
</html>
